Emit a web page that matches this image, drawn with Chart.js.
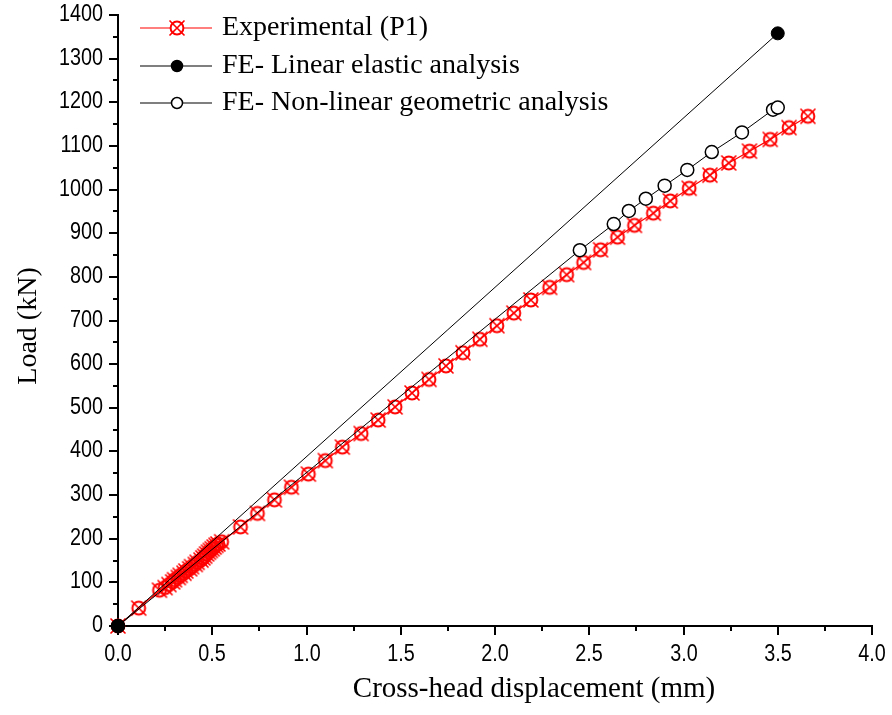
<!DOCTYPE html>
<html>
<head>
<meta charset="utf-8">
<script src="https://cdn.jsdelivr.net/npm/chart.js@4.4.1/dist/chart.umd.min.js"></script>
<style>
  html, body { margin: 0; padding: 0; background: #fff; }
  #wrap { width: 892px; height: 715px; position: relative; }
</style>
</head>
<body>
<div id="wrap"><canvas id="chart" width="892" height="715"></canvas></div>
<script>
// Experimental (P1) load-displacement readings
const expX = [0, 0.11, 0.22, 0.25, 0.27, 0.29, 0.30, 0.32, 0.33, 0.35, 0.36, 0.38, 0.39, 0.41, 0.42, 0.44, 0.45, 0.46, 0.47, 0.48, 0.49, 0.50, 0.51, 0.52, 0.53, 0.55,
  0.65, 0.74, 0.83, 0.92, 1.01, 1.10, 1.19, 1.29, 1.38, 1.47,
  1.56, 1.65, 1.74, 1.83, 1.92, 2.01, 2.10, 2.19, 2.29, 2.38,
  2.47, 2.56, 2.65, 2.74, 2.84, 2.93, 3.03, 3.14, 3.24, 3.35,
  3.46, 3.56, 3.66];
const expY = [0, 41, 82, 88, 95, 101, 106, 111, 116, 121, 126, 131, 136, 141, 146, 151, 156, 160, 165, 169, 173, 177, 181, 185, 188, 193,
  227, 258, 289, 318, 348, 379, 410, 441, 472, 502,
  534, 565, 596, 626, 657, 688, 717, 747, 776, 805,
  833, 862, 891, 918, 946, 974, 1003, 1033, 1061, 1088,
  1115, 1142, 1168];

// FE linear elastic
const linX = [0, 3.5];
const linY = [0, 1358];

// FE non-linear geometric
const nlX = [0, 2.45, 2.63, 2.71, 2.80, 2.90, 3.02, 3.15, 3.31, 3.475, 3.50];
const nlY = [0, 861, 921, 951, 979, 1009, 1045, 1086, 1131, 1183, 1188];

const labels = ['Experimental (P1)', 'FE- Linear elastic analysis', 'FE- Non-linear geometric analysis'];

const serif = "'Liberation Serif', 'Times New Roman', serif";
const sans = "'Liberation Sans', Arial, sans-serif";

function zip(xs, ys) {
  return xs.map((x, i) => ({ x: x, y: ys[i] }));
}

function isMajorX(v) { return Math.abs(v * 2 - Math.round(v * 2)) < 1e-6; }
function isMajorY(v) { return v % 100 === 0; }

// red circle with an X through it
function makeCrossCircle() {
  const c = document.createElement('canvas');
  c.width = 22; c.height = 22;
  const g = c.getContext('2d');
  g.strokeStyle = '#ff0000';
  g.lineWidth = 2;
  g.beginPath();
  g.arc(11, 11, 6.4, 0, Math.PI * 2);
  g.stroke();
  g.lineWidth = 1.6;
  g.beginPath();
  g.moveTo(3.5, 3.5); g.lineTo(18.5, 18.5);
  g.moveTo(18.5, 3.5); g.lineTo(3.5, 18.5);
  g.stroke();
  return c;
}
const crossCircle = makeCrossCircle();

// narrow tick label text, squeezed horizontally
function narrowText(ctx, text, x, y, align) {
  ctx.save();
  ctx.translate(x, y);
  ctx.scale(0.86, 1);
  ctx.textAlign = align;
  ctx.textBaseline = 'middle';
  ctx.fillText(text, 0, 0);
  ctx.restore();
}

// outward major/minor ticks, tick labels, axis titles and the legend
const decorPlugin = {
  id: 'decor',
  afterDraw(chart) {
    const ctx = chart.ctx;
    const xs = chart.scales.x, ys = chart.scales.y;
    const area = chart.chartArea;
    ctx.save();
    ctx.strokeStyle = '#000';
    ctx.fillStyle = '#000';
    ctx.lineWidth = 2;
    ctx.font = '23px ' + sans;
    xs.ticks.forEach(t => {
      const px = Math.round(xs.getPixelForValue(t.value));
      const major = isMajorX(t.value);
      ctx.beginPath();
      ctx.moveTo(px, area.bottom);
      ctx.lineTo(px, area.bottom + (major ? 9 : 5));
      ctx.stroke();
      if (major) narrowText(ctx, t.value.toFixed(1), px, area.bottom + 29, 'center');
    });
    ys.ticks.forEach(t => {
      const py = Math.round(ys.getPixelForValue(t.value));
      const major = isMajorY(t.value);
      ctx.beginPath();
      ctx.moveTo(area.left, py);
      ctx.lineTo(area.left - (major ? 9 : 5), py);
      ctx.stroke();
      if (major) narrowText(ctx, String(t.value), area.left - 15, py, 'right');
    });

    // axis titles
    ctx.textAlign = 'center';
    ctx.textBaseline = 'middle';
    ctx.font = '29px ' + serif;
    ctx.fillText('Cross-head displacement (mm)', 534, 689);
    ctx.font = '28px ' + serif;
    ctx.translate(29, 326);
    ctx.rotate(-Math.PI / 2);
    ctx.fillText('Load (kN)', 0, 0);
    ctx.setTransform(1, 0, 0, 1, 0, 0);

    // legend
    const rows = [28, 66, 103];
    chart.data.datasets.forEach((ds, i) => {
      const y = rows[i];
      ctx.strokeStyle = ds.borderColor;
      ctx.lineWidth = 1.2;
      ctx.beginPath();
      ctx.moveTo(140, y);
      ctx.lineTo(212, y);
      ctx.stroke();
      if (ds.pointStyle === crossCircle) {
        ctx.fillStyle = '#fff';
        ctx.beginPath(); ctx.arc(177, y, 6, 0, Math.PI * 2); ctx.fill();
        ctx.drawImage(crossCircle, 166, y - 11);
      } else {
        ctx.fillStyle = ds.pointBackgroundColor;
        ctx.strokeStyle = '#000';
        ctx.lineWidth = 1.5;
        ctx.beginPath();
        ctx.arc(177, y, 5.5, 0, Math.PI * 2);
        ctx.fill();
        ctx.stroke();
      }
      ctx.fillStyle = '#000';
      ctx.font = '28px ' + serif;
      ctx.textAlign = 'left';
      ctx.textBaseline = 'middle';
      ctx.fillText(ds.label, 222, y);
    });
    ctx.restore();
  }
};

new Chart(document.getElementById('chart'), {
  type: 'scatter',
  data: {
    datasets: [
      {
        label: labels[0],
        data: zip(expX, expY),
        showLine: true,
        borderColor: '#ff0000',
        borderWidth: 1.2,
        pointStyle: crossCircle,
        pointRadius: 7,
        clip: false,
        order: 2
      },
      {
        label: labels[1],
        data: zip(linX, linY),
        showLine: true,
        borderColor: '#000',
        borderWidth: 1,
        pointBackgroundColor: '#000',
        pointBorderColor: '#000',
        pointRadius: 6.5,
        clip: false,
        order: 0
      },
      {
        label: labels[2],
        data: zip(nlX, nlY),
        showLine: true,
        borderColor: '#000',
        borderWidth: 1,
        pointBackgroundColor: '#fff',
        pointBorderColor: '#000',
        pointBorderWidth: 1.5,
        pointRadius: 6.5,
        clip: false,
        order: 1
      }
    ]
  },
  options: {
    responsive: false,
    animation: false,
    layout: { padding: { left: 0, top: 15, right: 20, bottom: 0 } },
    plugins: {
      legend: { display: false },
      tooltip: { enabled: false }
    },
    scales: {
      x: {
        type: 'linear',
        min: 0,
        max: 4,
        afterFit(s) { s.height = 89; },
        ticks: {
          stepSize: 0.25,
          autoSkip: false,
          maxRotation: 0,
          color: 'rgba(0,0,0,0)',
          font: { family: sans, size: 19 },
          callback: v => (isMajorX(v) ? v.toFixed(1) : '')
        },
        grid: { drawOnChartArea: false, drawTicks: true, tickLength: 9, color: 'rgba(0,0,0,0)' },
        border: { display: true, color: '#000', width: 2 }
      },
      y: {
        type: 'linear',
        min: 0,
        max: 1400,
        afterFit(s) { s.width = 118; },
        ticks: {
          stepSize: 50,
          autoSkip: false,
          color: 'rgba(0,0,0,0)',
          font: { family: sans, size: 19 },
          callback: v => (isMajorY(v) ? String(v) : '')
        },
        grid: { drawOnChartArea: false, drawTicks: true, tickLength: 9, color: 'rgba(0,0,0,0)' },
        border: { display: true, color: '#000', width: 2 }
      }
    }
  },
  plugins: [decorPlugin]
});
</script>
</body>
</html>
